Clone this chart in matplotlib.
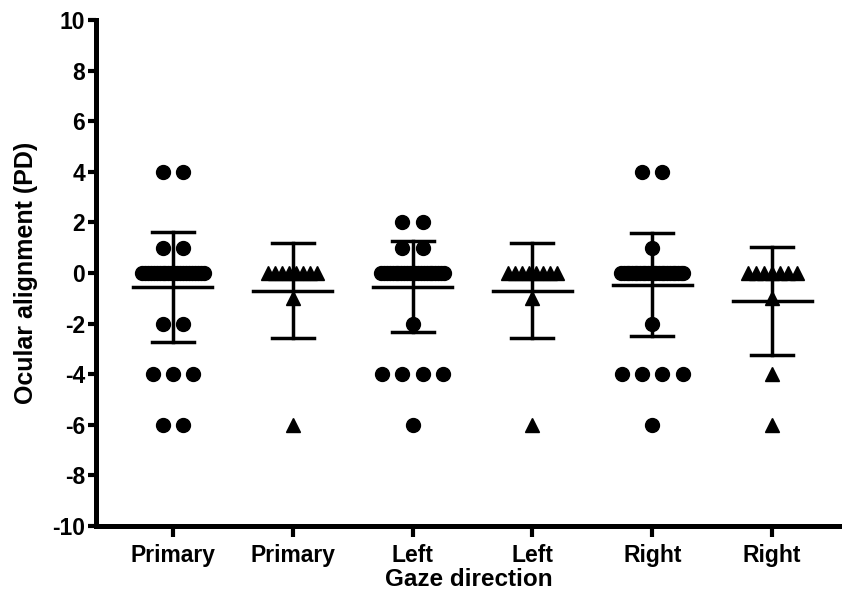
import numpy as np
import matplotlib
matplotlib.use('Agg')
import matplotlib.pyplot as plt

plt.rcParams['font.family'] = ['Liberation Sans', 'DejaVu Sans']
plt.rcParams['font.weight'] = 'bold'
plt.rcParams['axes.unicode_minus'] = False

# gaze direction groups (circles = group A, triangles = group B)
labels = ['Primary', 'Primary', 'Left', 'Left', 'Right', 'Right']
markers = ['o', '^', 'o', '^', 'o', '^']

# values as (alignment PD, count)
g1 = [(4, 2), (1, 2), (0, 22), (-2, 2), (-4, 3), (-6, 2)]
g2 = [(0, 8), (-1, 1), (-6, 1)]
g3 = [(2, 2), (1, 2), (0, 23), (-2, 1), (-4, 4), (-6, 1)]
g4 = [(0, 8), (-1, 1), (-6, 1)]
g5 = [(4, 2), (1, 1), (0, 24), (-2, 1), (-4, 4), (-6, 1)]
g6 = [(0, 7), (-1, 1), (-4, 1), (-6, 1)]
groups = [g1, g2, g3, g4, g5, g6]

fig = plt.figure(figsize=(8.42, 5.93), dpi=100)
ax = fig.add_axes([96/842, 1-526/593, 1-96/842, (526-20)/593])

for i, (g, m) in enumerate(zip(groups, markers)):
    xc = i + 1
    band = 0.52 if m == 'o' else 0.41
    vals = []
    for v, n in g:
        step = 0.17 if n < 2 else min(0.17, band/(n-1))
        offs = (np.arange(n) - (n-1)/2) * step
        ax.plot(xc + offs, [v]*n, m, color='black', ms=10 if m == 'o' else 10.5,
                mec='black', zorder=3, clip_on=False)
        vals += [v]*n
    vals = np.array(vals, dtype=float)
    mean = vals.mean()
    sd = vals.std(ddof=1)
    ax.plot([xc-0.33, xc+0.33], [mean, mean], color='black', lw=2.5, zorder=4)
    ax.plot([xc, xc], [mean-sd, mean+sd], color='black', lw=2.5, zorder=4)
    for e in (mean-sd, mean+sd):
        ax.plot([xc-0.175, xc+0.175], [e, e], color='black', lw=2.5, zorder=4)

ax.set_xlim(1 - 77/120, 6 + 70/120)
ax.set_ylim(-10, 10)
ax.set_yticks(np.arange(-10, 11, 2))
ax.set_xticks(range(1, 7))
ax.set_xticklabels(labels)
for s in ['top', 'right']:
    ax.spines[s].set_visible(False)
for s in ['left', 'bottom']:
    ax.spines[s].set_linewidth(3.6)
ax.tick_params(width=3, length=6, labelsize=16.5, pad=2)
ax.tick_params(axis='x', length=8, pad=5)
ax.set_ylabel('Ocular alignment (PD)', fontsize=18, fontweight='bold', labelpad=10)
ax.set_xlabel('Gaze direction', fontsize=17.5, fontweight='bold', labelpad=1)

plt.savefig('out.png', dpi=100)
